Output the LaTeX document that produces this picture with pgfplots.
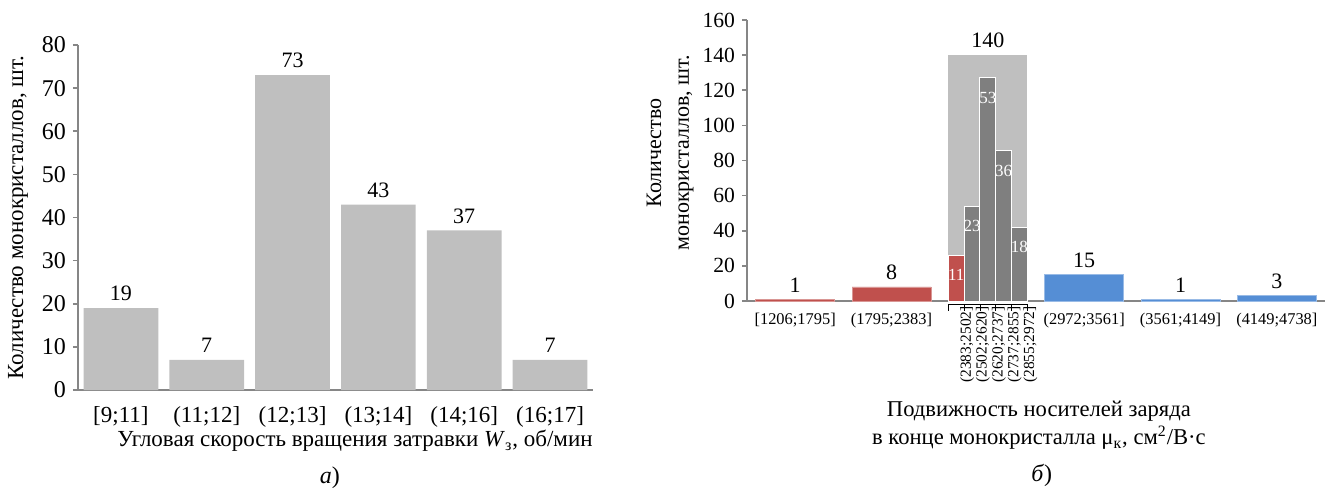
\documentclass[border=0pt]{standalone}
\usepackage{fontspec}
\setmainfont{Liberation Serif}
\usepackage{pgfplots}
\pgfplotsset{compat=1.18}
\definecolor{barGray}{HTML}{BFBFBF}
\definecolor{darkGray}{HTML}{7F7F7F}
\definecolor{redBar}{HTML}{C0504D}
\definecolor{blueBar}{HTML}{558ED5}
\definecolor{axisGray}{HTML}{868686}
\begin{document}
\begin{tikzpicture}
% ---------- left chart ----------
\begin{axis}[
  at={(39pt,-195pt)}, anchor=south west,
  scale only axis, width=257.5pt, height=172.5pt,
  xmin=-0.5, xmax=5.5, ymin=0, ymax=80,
  ytick={0,10,...,80},
  xtick={0,...,5},
  xticklabels={{[9;11]},{(11;12]},{(12;13]},{(13;14]},{(14;16]},{(16;17]}},
  axis x line=bottom, axis y line=left,
  axis line style={-, axisGray, line width=1pt},
  x axis line style={-}, y axis line style={-},
  tick align=outside, xtick style={draw=none},
  ytick style={axisGray, line width=0.8pt}, major tick length=2.5pt,
  /pgf/number format/assume math mode=true,
  yticklabel style={font=\fontsize{12}{14}\selectfont},
  xticklabel style={font=\fontsize{11.5}{14}\selectfont, yshift=-2pt},
  ylabel={Количество монокристаллов, шт.},
  ylabel style={at={(axis description cs:-0.1165,0.5)}, anchor=center, font=\fontsize{11.5}{14}\selectfont},
  xlabel={Угловая скорость вращения затравки \textit{W}\textsubscript{з}, об/мин},
  xlabel style={at={(axis description cs:0.538,-0.148)}, anchor=center, font=\fontsize{11.5}{14}\selectfont},
  ybar, bar width=0.87,
  nodes near coords,
  nodes near coords style={font=\fontsize{11}{13}\selectfont, /pgf/number format/assume math mode=true},
  clip=false,
]
\addplot[fill=barGray, draw=none, bar shift=0pt] coordinates {(0,19) (1,7) (2,73) (3,43) (4,37) (5,7)};
\node[font=\fontsize{12}{14}\selectfont] at (axis description cs:0.489,-0.255) {\textit{а})};
\end{axis}
% ---------- right chart ----------
\begin{axis}[
  at={(373.5pt,-150.5pt)}, anchor=south west,
  scale only axis, width=289pt, height=140.5pt,
  xmin=-0.5, xmax=5.5, ymin=0, ymax=160,
  ytick={0,20,...,160},
  xtick={0,1,3,4,5},
  xticklabels={{[1206;1795]},{(1795;2383]},{(2972;3561]},{(3561;4149]},{(4149;4738]}},
  extra x ticks={1.672,1.836,2,2.164,2.328},
  extra x tick labels={{(2383;2502]},{(2502;2620]},{(2620;2737]},{(2737;2855]},{(2855;2972]}},
  extra x tick style={xtick style={draw=none}, xticklabel style={rotate=90, anchor=east, font=\fontsize{7.7}{9}\selectfont, inner sep=0pt, yshift=-5.5pt}},
  axis x line=bottom, axis y line=left,
  axis line style={-, axisGray, line width=1pt},
  x axis line style={-}, y axis line style={-},
  tick align=outside, xtick style={draw=none},
  ytick style={axisGray, line width=0.8pt}, major tick length=2.5pt,
  /pgf/number format/assume math mode=true,
  yticklabel style={font=\fontsize{10.8}{13}\selectfont},
  xticklabel style={font=\fontsize{8.2}{10}\selectfont},
  ylabel={Количество\\монокристаллов, шт.},
  ylabel style={at={(axis description cs:-0.133,0.527)}, anchor=center, align=center, font=\fontsize{11}{14}\selectfont},
  xlabel={Подвижность носителей заряда\\в конце монокристалла μ\textsubscript{к}, см\textsuperscript{2}/В·с},
  xlabel style={at={(axis description cs:0.505,-0.443)}, anchor=center, align=center, font=\fontsize{11.3}{14}\selectfont},
  ybar,
  clip=false,
]
\addplot[fill=barGray, draw=none, bar width=0.82, bar shift=0pt,
  nodes near coords, nodes near coords style={font=\fontsize{11}{13}\selectfont, /pgf/number format/assume math mode=true}]
  coordinates {(2,140)};
\addplot[fill=redBar, draw=redBar!60, line width=0.4pt, bar width=0.82, bar shift=0pt,
  nodes near coords, nodes near coords style={font=\fontsize{11}{13}\selectfont, /pgf/number format/assume math mode=true}]
  coordinates {(0,1) (1,8)};
\addplot[fill=blueBar, draw=blueBar!60, line width=0.4pt, bar width=0.82, bar shift=0pt,
  nodes near coords, nodes near coords style={font=\fontsize{11}{13}\selectfont, /pgf/number format/assume math mode=true}]
  coordinates {(3,15) (4,1) (5,3)};
\addplot[fill=redBar, draw=white, line width=0.5pt, bar width=0.164, bar shift=0pt,
  point meta=explicit symbolic, nodes near coords,
  nodes near coords style={anchor=north, yshift=-3.5pt, text=white, font=\fontsize{8.5}{10}\selectfont}]
  coordinates {(1.672,26) [11]};
\addplot[fill=darkGray, draw=white, line width=0.5pt, bar width=0.164, bar shift=0pt,
  point meta=explicit symbolic, nodes near coords,
  nodes near coords style={anchor=north, yshift=-3.5pt, text=white, font=\fontsize{8.5}{10}\selectfont}]
  coordinates {(1.836,54) [23] (2,127) [53] (2.164,85.5) [36] (2.328,42) [18]};
\draw[black, line width=0.5pt] ([yshift=-1.5pt]axis cs:1.59,0) -- ([yshift=-1.5pt]axis cs:2.41,0);
\pgfplotsinvokeforeach{1.59,1.754,1.918,2.082,2.246,2.41}{
  \draw[black, line width=0.4pt] ([yshift=-1.5pt]axis cs:#1,0) -- ([yshift=-5pt]axis cs:#1,0);
}
\node[font=\fontsize{12}{14}\selectfont] at (axis description cs:0.51,-0.62) {\textit{б})};
\end{axis}
\pgfresetboundingbox
\useasboundingbox (0,0) rectangle (663pt,-247.5pt);
\end{tikzpicture}
\end{document}
